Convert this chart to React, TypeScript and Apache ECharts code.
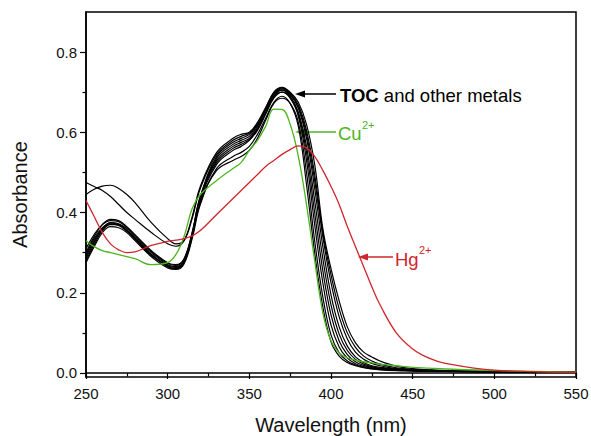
import React, { useEffect, useRef } from "react";
import * as echarts from "echarts";

const wavelengths = [250,255,260,265,270,275,280,290,300,305,310,315,320,330,340,345,350,355,360,365,370,375,380,385,390,395,400,405,410,415,420,425,430,440,450,460,470,500,550];

const toc1 = [0.30,0.34,0.37,0.383,0.38,0.365,0.345,0.305,0.275,0.27,0.285,0.35,0.44,0.54,0.575,0.585,0.595,0.62,0.66,0.70,0.712,0.70,0.675,0.62,0.52,0.36,0.26,0.18,0.115,0.075,0.052,0.04,0.03,0.017,0.011,0.008,0.006,0.004,0.002];
const toc2 = [0.29,0.33,0.36,0.375,0.372,0.36,0.34,0.30,0.27,0.265,0.28,0.35,0.44,0.53,0.565,0.575,0.585,0.61,0.65,0.69,0.705,0.69,0.65,0.565,0.43,0.285,0.17,0.097,0.056,0.034,0.022,0.016,0.012,0.009,0.007,0.006,0.005,0.003,0.002];
const toc3 = [0.28,0.32,0.355,0.37,0.37,0.355,0.335,0.295,0.265,0.26,0.275,0.34,0.43,0.52,0.555,0.565,0.58,0.605,0.645,0.685,0.70,0.685,0.64,0.53,0.37,0.225,0.12,0.065,0.037,0.023,0.016,0.012,0.01,0.007,0.006,0.005,0.004,0.003,0.002];
const toc4 = [0.275,0.315,0.35,0.365,0.362,0.35,0.33,0.29,0.262,0.258,0.272,0.335,0.42,0.51,0.54,0.55,0.565,0.595,0.635,0.675,0.69,0.672,0.615,0.47,0.30,0.165,0.078,0.042,0.026,0.018,0.013,0.01,0.008,0.006,0.005,0.004,0.004,0.003,0.002];
const toc5 = [0.31,0.345,0.37,0.38,0.377,0.363,0.343,0.303,0.273,0.268,0.283,0.345,0.435,0.535,0.57,0.58,0.59,0.615,0.655,0.695,0.708,0.695,0.66,0.585,0.46,0.315,0.195,0.115,0.067,0.04,0.026,0.018,0.014,0.01,0.008,0.006,0.005,0.004,0.002];
const toc6 = [0.285,0.325,0.358,0.372,0.368,0.353,0.333,0.293,0.268,0.263,0.278,0.345,0.435,0.525,0.56,0.57,0.582,0.608,0.648,0.688,0.70,0.688,0.645,0.55,0.40,0.255,0.145,0.08,0.046,0.028,0.019,0.014,0.011,0.008,0.006,0.005,0.004,0.003,0.002];
const toc7 = [0.295,0.335,0.362,0.374,0.37,0.356,0.336,0.296,0.266,0.261,0.276,0.34,0.425,0.505,0.53,0.54,0.555,0.585,0.63,0.672,0.685,0.672,0.625,0.50,0.33,0.19,0.095,0.05,0.03,0.02,0.014,0.011,0.009,0.007,0.005,0.004,0.004,0.003,0.002];
const toc8 = [0.475,0.465,0.455,0.44,0.42,0.40,0.383,0.35,0.322,0.316,0.33,0.39,0.465,0.55,0.585,0.595,0.60,0.625,0.662,0.698,0.71,0.698,0.668,0.605,0.495,0.35,0.245,0.16,0.10,0.064,0.042,0.03,0.022,0.013,0.009,0.007,0.006,0.004,0.002];
const toc9 = [0.445,0.458,0.466,0.468,0.46,0.445,0.425,0.375,0.335,0.322,0.33,0.385,0.46,0.545,0.58,0.59,0.598,0.62,0.658,0.694,0.706,0.694,0.663,0.595,0.48,0.34,0.225,0.14,0.085,0.052,0.034,0.024,0.018,0.011,0.008,0.006,0.005,0.004,0.002];
const cu = [0.33,0.315,0.305,0.30,0.295,0.29,0.285,0.27,0.275,0.295,0.34,0.41,0.445,0.48,0.51,0.525,0.555,0.58,0.615,0.658,0.657,0.62,0.54,0.42,0.28,0.15,0.08,0.05,0.038,0.032,0.028,0.025,0.022,0.018,0.014,0.012,0.01,0.006,0.002];
const hg = [0.43,0.39,0.35,0.322,0.307,0.30,0.302,0.318,0.328,0.331,0.335,0.342,0.355,0.395,0.435,0.455,0.475,0.495,0.515,0.53,0.545,0.557,0.566,0.562,0.54,0.505,0.465,0.42,0.365,0.315,0.265,0.215,0.17,0.10,0.06,0.037,0.024,0.007,0.002];

const tocSeries = [toc1, toc2, toc3, toc4, toc5, toc6, toc7, toc8, toc9];
const yMajor = [0, 0.2, 0.4, 0.6, 0.8];
const yMinor = [0.1, 0.3, 0.5, 0.7];

const FONT = "'Liberation Sans', Arial, sans-serif";
const GREEN = "#4cb520";
const RED = "#d0262b";

const pair = (vals: number[]) => wavelengths.map((w, i) => [w, vals[i]]);

export default function App() {
  const ref = useRef<HTMLDivElement>(null);
  useEffect(() => {
    if (!ref.current) return;
    const chart = echarts.init(ref.current, undefined, { renderer: "svg" });
    const lineSeries = (name: string, vals: number[], color: string, w: number) => ({
      name,
      type: "line",
      data: pair(vals),
      smooth: 0.4,
      showSymbol: false,
      lineStyle: { color, width: w },
      silent: true,
    });
    chart.setOption({
      animation: false,
      grid: { left: 86, top: 12, right: 15, bottom: 59, show: true, borderColor: "#000", borderWidth: 1.5, backgroundColor: "transparent", containLabel: false, outerBoundsMode: "none" },
      xAxis: {
        type: "value", min: 250, max: 550, interval: 50,
        name: "Wavelength (nm)", nameLocation: "middle", nameGap: 38,
        nameTextStyle: { fontFamily: FONT, fontSize: 20, color: "#111" },
        axisLine: { lineStyle: { color: "#000", width: 1.5 } },
        axisTick: { length: 6, lineStyle: { color: "#000", width: 1.2 } },
        minorTick: { show: true, splitNumber: 2, length: 3.5, lineStyle: { color: "#000", width: 1.2 } },
        axisLabel: { fontFamily: FONT, fontSize: 15, color: "#111", margin: 9 },
        splitLine: { show: false },
      },
      yAxis: [
        {
          type: "value", min: -0.01, max: 0.9,
          name: "Absorbance", nameLocation: "middle", nameGap: 56, nameRotate: 90,
          nameTextStyle: { fontFamily: FONT, fontSize: 20, color: "#111" },
          axisLine: { lineStyle: { color: "#000", width: 1.5 } },
          axisTick: { length: 6, customValues: yMajor, lineStyle: { color: "#000", width: 1.2 } },
          axisLabel: { customValues: yMajor, fontFamily: FONT, fontSize: 15, color: "#111", margin: 9, formatter: (v: number) => v.toFixed(1) },
          splitLine: { show: false },
        },
        {
          type: "value", min: -0.01, max: 0.9, position: "left",
          axisLine: { show: false },
          axisTick: { length: 3.5, customValues: yMinor, lineStyle: { color: "#000", width: 1.2 } },
          axisLabel: { show: false },
          splitLine: { show: false },
        },
      ],
      series: [
        ...tocSeries.map((v, i) => lineSeries("toc" + (i + 1), v, "#000", 1.2)),
        lineSeries("Cu", cu, GREEN, 1.3),
        lineSeries("Hg", hg, RED, 1.3),
      ],
      graphic: [
        { type: "line", shape: { x1: 302, y1: 94, x2: 336, y2: 94 }, style: { stroke: "#000", lineWidth: 1.5 } },
        { type: "polygon", shape: { points: [[295, 94], [305, 90.5], [305, 97.5]] }, style: { fill: "#000" } },
        { type: "text", x: 340, y: 95, style: { text: "{b|TOC} and other metals", fill: "#000", font: `18.5px ${FONT}`, verticalAlign: "middle", rich: { b: { fontWeight: "bold", fontSize: 18.5, fontFamily: FONT } } } },
        { type: "line", shape: { x1: 302, y1: 132, x2: 336, y2: 132 }, style: { stroke: GREEN, lineWidth: 1.5 } },
        { type: "polygon", shape: { points: [[295, 132], [305, 128.5], [305, 135.5]] }, style: { fill: GREEN } },
        { type: "text", x: 338, y: 133, style: { text: "Cu", fill: GREEN, font: `18.5px ${FONT}`, verticalAlign: "middle" } },
        { type: "text", x: 362, y: 125, style: { text: "2+", fill: GREEN, font: `11px ${FONT}`, verticalAlign: "middle" } },
        { type: "line", shape: { x1: 365, y1: 257, x2: 393, y2: 257 }, style: { stroke: RED, lineWidth: 1.5 } },
        { type: "polygon", shape: { points: [[358, 257], [368, 253.5], [368, 260.5]] }, style: { fill: RED } },
        { type: "text", x: 395, y: 259, style: { text: "Hg", fill: RED, font: `18.5px ${FONT}`, verticalAlign: "middle" } },
        { type: "text", x: 419, y: 250, style: { text: "2+", fill: RED, font: `11px ${FONT}`, verticalAlign: "middle" } },
      ],
    });
    return () => chart.dispose();
  }, []);
  return <div ref={ref} style={{ width: 591, height: 436, position: "absolute", left: 0, top: 0 }} />;
}
